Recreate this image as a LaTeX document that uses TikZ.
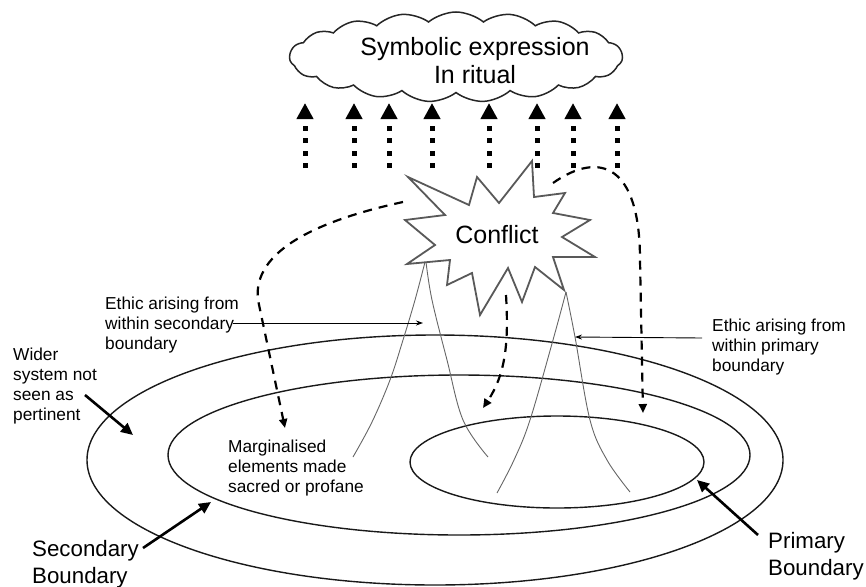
\documentclass[tikz,border=0pt]{standalone}
\usepackage{fontspec}
\setmainfont{Liberation Sans}
\usetikzlibrary{arrows.meta,shapes.symbols}

\begin{document}
\begin{tikzpicture}[x=1pt,y=-1pt,
  lbl/.style={font=\fontsize{17.3}{20}\selectfont, align=left, anchor=base west, inner sep=0pt},
  biglbl/.style={font=\fontsize{22.3}{27}\selectfont, align=left, anchor=base west, inner sep=0pt},
  ring/.style={line width=1.4pt, draw=black!90},
  peak/.style={draw=black!60, line width=0.9pt},
  thinarrow/.style={line width=0.9pt, -{Stealth[length=7pt,width=5pt]}},
  thickarrow/.style={line width=2.6pt, -{Triangle[length=12pt,width=11pt]}},
  dasharrow/.style={line width=2.2pt, dash pattern=on 9pt off 7pt, -{Triangle[length=9pt,width=8pt]}},
  dotarrow/.style={line width=5pt, dash pattern=on 5pt off 7.5pt, -{Triangle[length=16pt,width=16pt]}},
]
\useasboundingbox (0,0) rectangle (866,586);

% boundaries
\draw[ring] (435,460) ellipse [x radius=348pt, y radius=125pt];
\draw[ring] (459,455) ellipse [x radius=291pt, y radius=80pt];
\draw[ring] (557,462) ellipse [x radius=147pt, y radius=46pt];

% the two ethic peaks
\draw[peak] plot[smooth, tension=0.6] coordinates {(425,262) (415,300) (403,340) (390,380) (372,422) (353,457)};
\draw[peak] plot[smooth, tension=0.6] coordinates {(426,262) (432,300) (447,360) (463,420) (488,457)};
\draw[peak] plot[smooth, tension=0.6] coordinates {(566,292) (553,340) (530,420) (514,460) (497,493)};
\draw[peak] plot[smooth, tension=0.6] coordinates {(566,292) (575,337) (590,420) (607,460) (630,492)};

% conflict burst
\draw[draw=black!65, line width=1.8pt, line join=miter, fill=white]
  (408,177) -- (469,205) -- (477,177) -- (499,203) -- (532,161) -- (534,197)
  -- (565,193) -- (553,213) -- (590,220) -- (562,237) -- (595,257) -- (553,257)
  -- (564,290) -- (535,267) -- (522,302) -- (508,268) -- (480,315) -- (472,273)
  -- (447,285) -- (450,260) -- (407,264) -- (435,245) -- (405,220) -- (445,215) -- cycle;
\node[font=\fontsize{25}{28}\selectfont, anchor=base, inner sep=0pt] (conflict) at (497,243) {Conflict};

% symbolic expression cloud
\node[cloud, draw=black!85, line width=1.5pt, cloud puffs=19, cloud puff arc=80, cloud ignores aspect,
      minimum width=333pt, minimum height=90pt, inner sep=0pt] (cloud) at (456,57) {};
\node[font=\fontsize{25}{28}\selectfont, align=center, anchor=base, inner sep=0pt] (symb) at (475,83)
  {Symbolic expression\\In ritual};

% dotted arrows rising into the cloud
\foreach \i/\xx in {1/305,2/354,3/389,4/432,5/489,6/537,7/573,8/617}{
  \coordinate (ds\i) at (\xx,168);
  \coordinate (de\i) at (\xx,103);
  \draw[dotarrow] (ds\i) -- (de\i);
}

% dashed arrows out of the conflict
\coordinate (la) at (403,202);
\coordinate (lb) at (258,300);
\coordinate (lc) at (285,428);
\draw[dasharrow] (la) .. controls (320,220) and (252,250) .. (lb) -- (lc);
\coordinate (ma) at (506,295);
\coordinate (mb) at (483,408);
\draw[dasharrow] (ma) .. controls (509,345) and (505,375) .. (mb);
\coordinate (ra) at (553,183);
\coordinate (rb) at (640,260);
\coordinate (rc) at (643,413);
\draw[dasharrow] (ra) .. controls (600,150) and (640,165) .. (rb) -- (rc);

% labels (anchored at the baseline of their last line)
\node[lbl] (ethsec) at (105,349) {Ethic arising from\\within secondary\\boundary};
\node[lbl] (ethpri) at (712,371) {Ethic arising from\\within primary\\boundary};
\node[lbl] (wider) at (13,420) {Wider\\system not\\seen as\\pertinent};
\node[lbl] (marg) at (228,492) {Marginalised\\elements made\\sacred or profane};
\node[biglbl] (secb) at (32,583) {Secondary\\Boundary};
\node[biglbl] (prib) at (768,575) {Primary\\Boundary};

% pointer arrows
\coordinate (es1) at (233,323);
\coordinate (es2) at (423,323);
\draw[thinarrow] (es1) -- (es2);
\coordinate (ep1) at (702,338);
\coordinate (ep2) at (575,337);
\draw[thinarrow] (ep1) -- (ep2);
\coordinate (w1) at (85,395);
\coordinate (w2) at (133,435);
\draw[thickarrow] (w1) -- (w2);
\coordinate (s1) at (143,548);
\coordinate (s2) at (211,502);
\draw[thickarrow] (s1) -- (s2);
\coordinate (p1) at (758,535);
\coordinate (p2) at (697,480);
\draw[thickarrow] (p1) -- (p2);
\end{tikzpicture}
\end{document}
